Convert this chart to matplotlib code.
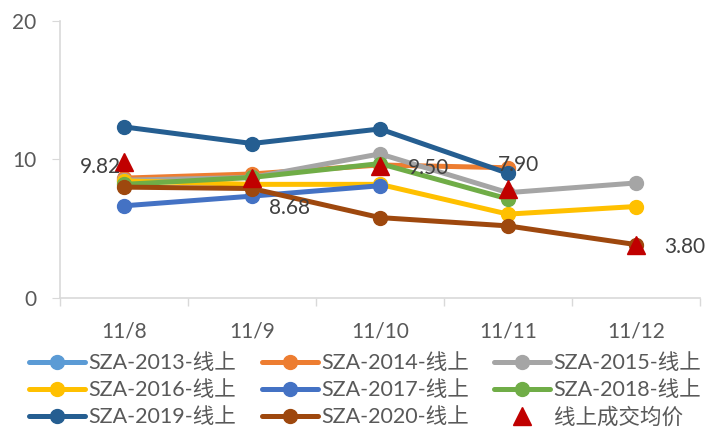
import matplotlib.pyplot as plt
import numpy as np

plt.rcParams['font.family'] = ['Lato', 'Noto Sans CJK SC', 'DejaVu Sans']

dates = ['11/8', '11/9', '11/10', '11/11', '11/12']
nan = np.nan

sza_2013 = [nan, nan, nan, nan, nan]
sza_2014 = [8.65, 8.95, 9.6, 9.4, nan]
sza_2015 = [8.5, 8.7, 10.4, 7.6, 8.3]
sza_2016 = [8.45, 8.2, 8.2, 6.05, 6.6]
sza_2017 = [6.65, 7.35, 8.1, nan, nan]
sza_2018 = [8.2, 8.7, 9.7, 7.15, nan]
sza_2019 = [12.35, 11.15, 12.2, 9.0, nan]
sza_2020 = [8.0, 7.9, 5.8, 5.2, 3.85]
avg_price = [9.82, 8.68, 9.50, 7.90, 3.80]

series = [
    ('SZA-2013-线上', sza_2013, '#5B9BD5'),
    ('SZA-2014-线上', sza_2014, '#ED7D31'),
    ('SZA-2015-线上', sza_2015, '#A5A5A5'),
    ('SZA-2016-线上', sza_2016, '#FFC000'),
    ('SZA-2017-线上', sza_2017, '#4472C4'),
    ('SZA-2018-线上', sza_2018, '#70AD47'),
    ('SZA-2019-线上', sza_2019, '#255E91'),
    ('SZA-2020-线上', sza_2020, '#9E480E'),
]

text_color = '#595959'
axis_color = '#D9D9D9'
fs = 15

fig = plt.figure(figsize=(7.23, 4.28), dpi=100)
ax = fig.add_axes([0.083, 0.304, 0.885, 0.647])

x = np.arange(len(dates))
for name, vals, col in series:
    ax.plot(x, vals, color=col, lw=3.6, marker='o', ms=10, label=name,
            solid_capstyle='round', solid_joinstyle='round')

ax.plot(x, avg_price, linestyle='none', marker='^', ms=13, color='#C00000',
        label='线上成交均价', zorder=5)

# data labels for the average price (offsets in points)
offsets = [(-2, -4, 'right'), (12, -22, 'left'), (20, -1, 'left'),
           (-7, 17, 'left'), (20, -1, 'left')]
for xi, v, (dx, dy, ha) in zip(x, avg_price, offsets):
    ax.annotate('%.2f' % v, (xi, v), xytext=(dx, dy), textcoords='offset points',
                ha=ha, va='center', fontsize=fs, color='#404040', zorder=6)

ax.set_xlim(-0.5, len(dates) - 0.5)
ax.set_ylim(0, 20)
ax.set_yticks([0, 10, 20])
ax.set_xticks(x)
ax.set_xticklabels(dates)
ax.set_xticks(np.arange(-0.5, len(dates)), minor=True)
ax.tick_params(axis='x', which='major', length=0, pad=17, labelsize=fs, colors=text_color)
ax.tick_params(axis='x', which='minor', length=6, color=axis_color, width=1)
ax.tick_params(axis='y', length=6, color=axis_color, labelsize=fs, colors=text_color, pad=11)
for s in ['top', 'right']:
    ax.spines[s].set_visible(False)
for s in ['left', 'bottom']:
    ax.spines[s].set_color(axis_color)
    ax.spines[s].set_linewidth(1.2)

handles, labels = ax.get_legend_handles_labels()
# legend fills column-wise, so reorder to read row-wise
order = [0, 3, 6, 1, 4, 7, 2, 5, 8]
handles = [handles[i] for i in order]
labels = [labels[i] for i in order]
leg = fig.legend(handles, labels, loc='lower left', bbox_to_anchor=(0.022, -0.03),
                 ncol=3, frameon=False, fontsize=15.5, handlelength=2.6,
                 handletextpad=0.15, columnspacing=1.2, labelspacing=0.33,
                 numpoints=1, borderaxespad=0.2)
for t in leg.get_texts():
    t.set_color(text_color)

fig.savefig('out.png', dpi=100)
